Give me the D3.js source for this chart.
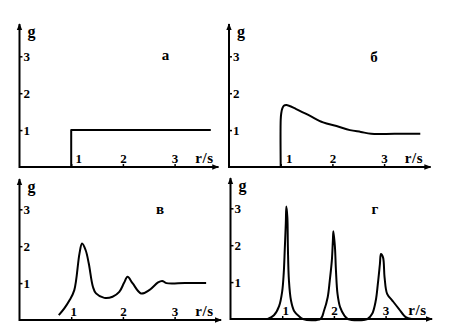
<!DOCTYPE html>
<html>
<head>
<meta charset="utf-8">
<script src="https://cdn.jsdelivr.net/npm/d3@7"></script>
<style>
  html, body { margin: 0; padding: 0; background: #fff; }
  svg { display: block; }
  text { font-family: "Liberation Serif", "Times New Roman", serif; font-weight: bold; fill: #000; }
</style>
</head>
<body>
<svg id="chart" width="456" height="334"></svg>
<script>
// ---- data ----
const panelLetters = ["а", "б", "в", "г"];
const xTicks = [1, 2, 3];
const yTicks = [1, 2, 3];
const xTitle = "r/s";
const yTitle = "g";

// panel а: step function
const aR = [1.0, 1.0, 3.7];
const aG = [0.0, 1.0, 1.0];

// panel б
const bR = [1.0, 1.0, 1.01, 1.03, 1.06, 1.11, 1.30, 1.56, 1.82, 2.08, 2.34, 2.55, 2.75, 3.2, 3.7];
const bG = [0.0, 1.28, 1.45, 1.58, 1.66, 1.68, 1.57, 1.39, 1.21, 1.11, 1.00, 0.95, 0.90, 0.90, 0.90];

// panel в
const vR = [0.76, 0.87, 0.97, 1.06, 1.16, 1.21, 1.28, 1.34, 1.42, 1.48, 1.64, 1.80, 1.93, 2.02, 2.09, 2.19, 2.35, 2.51, 2.68, 2.76, 2.84, 3.2, 3.61];
const vG = [0.13, 0.32, 0.54, 0.81, 1.80, 2.07, 1.89, 1.53, 0.90, 0.72, 0.60, 0.63, 0.76, 1.00, 1.17, 0.99, 0.72, 0.81, 1.02, 1.06, 1.00, 1.00, 1.00];

// panel г
const gR = [0.72, 0.84, 0.94, 1.00, 1.03, 1.05, 1.07, 1.08, 1.10, 1.11, 1.13, 1.17, 1.23, 1.33, 1.40,
            1.74, 1.81, 1.88, 1.92, 1.96, 1.98, 1.99, 2.02, 2.04, 2.07, 2.12, 2.20, 2.27,
            2.65, 2.74, 2.81, 2.85, 2.89, 2.91, 2.95, 2.98, 3.03, 3.13, 3.26, 3.39, 3.5];
const gG = [0.00, 0.10, 0.35, 0.75, 1.25, 1.90, 2.60, 3.05, 2.75, 1.95, 1.05, 0.50, 0.22, 0.07, 0.00,
            0.00, 0.23, 0.59, 1.04, 1.58, 2.12, 2.38, 1.95, 1.31, 0.68, 0.32, 0.10, 0.00,
            0.00, 0.14, 0.50, 0.95, 1.49, 1.76, 1.67, 1.13, 0.68, 0.50, 0.27, 0.05, 0.00];

// ---- layout (positions / styles only) ----
const layout = [
  { x0: 19.5, y0: 167, top: 24,  xMax: 3.85, letter: [165.5, 60],  label1dx: 7, titleDx: 194, curve: d3.curveLinear },
  { x0: 229,  y0: 167, top: 24,  xMax: 3.9,  letter: [374, 62],    label1dx: 8, titleDx: 194, curve: d3.curveCatmullRom.alpha(0.5) },
  { x0: 19.5, y0: 320, top: 179, xMax: 3.9,  letter: [160, 214],   label1dx: 2, titleDx: 194, curve: d3.curveCatmullRom.alpha(0.5) },
  { x0: 230.5,y0: 319, top: 178, xMax: 3.9,  letter: [375, 214],   label1dx: 3, titleDx: 196, curve: d3.curveCatmullRom.alpha(0.5) }
];
const series = [[aR, aG], [bR, bG], [vR, vG], [gR, gG]];
const unitX = 51.7, unitY = 36.9;

const svg = d3.select("#chart");
const defs = svg.append("defs");
defs.append("marker")
  .attr("id", "arrow").attr("viewBox", "0 0 10 10")
  .attr("refX", 9).attr("refY", 5)
  .attr("markerWidth", 7).attr("markerHeight", 7)
  .attr("markerUnits", "userSpaceOnUse")
  .attr("orient", "auto")
  .append("path").attr("d", "M0,1 L10,5 L0,9 Z").attr("fill", "#000");

layout.forEach((L, i) => {
  const x = d3.scaleLinear().domain([0, L.xMax]).range([L.x0, L.x0 + L.xMax * unitX]);
  const y = d3.scaleLinear().domain([0, 3.5]).range([L.y0, L.y0 - 3.5 * unitY]);
  const g = svg.append("g");

  // axis lines with arrows
  g.append("line")
    .attr("x1", L.x0).attr("y1", L.y0)
    .attr("x2", x(L.xMax)).attr("y2", L.y0)
    .attr("stroke", "#000").attr("stroke-width", 2)
    .attr("marker-end", "url(#arrow)");
  g.append("line")
    .attr("x1", L.x0).attr("y1", L.y0 + 1)
    .attr("x2", L.x0).attr("y2", L.top)
    .attr("stroke", "#000").attr("stroke-width", 2)
    .attr("marker-end", "url(#arrow)");

  // x axis ticks
  const xa = g.append("g").attr("transform", `translate(0,${L.y0})`)
    .call(d3.axisBottom(x).tickValues(xTicks).tickSize(-3).tickFormat(d3.format("d")));
  xa.select(".domain").remove();
  xa.selectAll(".tick line").attr("stroke", "#000").attr("stroke-width", 1.5);
  xa.selectAll(".tick text")
    .attr("y", -4).attr("dy", 0)
    .attr("dx", d => d === 1 ? L.label1dx : 0)
    .style("font-size", "13px");
  xa.attr("font-family", null).attr("font-size", null);

  // y axis ticks
  const ya = g.append("g").attr("transform", `translate(${L.x0},0)`)
    .call(d3.axisRight(y).tickValues(yTicks).tickSize(3).tickPadding(1).tickFormat(d3.format("d")));
  ya.select(".domain").remove();
  ya.selectAll(".tick line").attr("stroke", "#000").attr("stroke-width", 1.5);
  ya.selectAll(".tick text").style("font-size", "13px");
  ya.attr("font-family", null).attr("font-size", null);

  // titles
  g.append("text").attr("x", L.x0 + 8).attr("y", L.top + 13)
    .style("font-size", "16px").text(yTitle);
  g.append("text").attr("x", L.x0 + L.titleDx).attr("y", L.y0 - 4)
    .attr("text-anchor", "end")
    .style("font-size", "15px").style("letter-spacing", "0.5px").text(xTitle);
  g.append("text").attr("x", L.letter[0]).attr("y", L.letter[1])
    .attr("text-anchor", "middle")
    .style("font-size", "15px").text(panelLetters[i]);

  // curve
  const [R, G] = series[i];
  const pts = R.map((r, k) => [r, G[k]]);
  g.append("path")
    .datum(pts)
    .attr("fill", "none").attr("stroke", "#000").attr("stroke-width", 2)
    .attr("stroke-linejoin", "round")
    .attr("d", d3.line().x(d => x(d[0])).y(d => y(d[1])).curve(L.curve));
});
</script>
</body>
</html>
